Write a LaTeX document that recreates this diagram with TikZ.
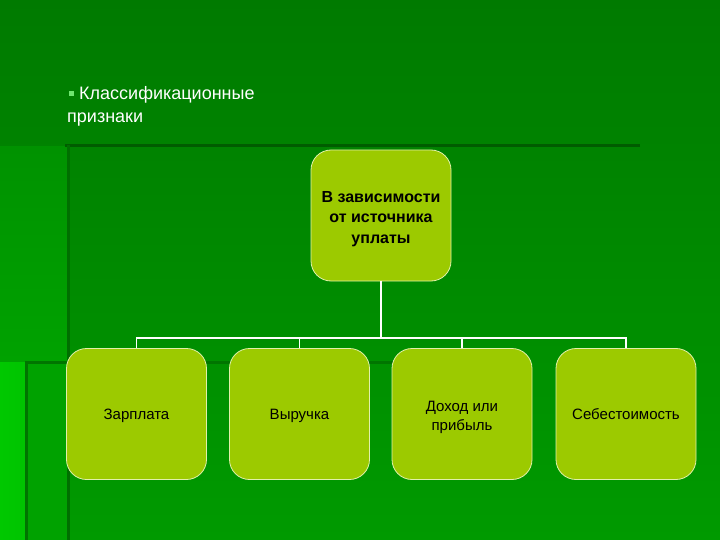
\documentclass[tikz,border=0pt]{standalone}
\usepackage{fontspec}
\setmainfont{Liberation Sans}
\usetikzlibrary{calc}
\definecolor{bgtop}{RGB}{0,122,0}
\definecolor{bgbot}{RGB}{0,154,0}
\definecolor{darkline}{RGB}{0,92,0}
\definecolor{leftbright}{RGB}{0,200,0}
\definecolor{leftmid}{RGB}{0,162,0}
\definecolor{boxfill}{RGB}{156,202,0}
\definecolor{boxedge}{RGB}{225,240,170}
\definecolor{bulletc}{RGB}{110,230,110}
\newcommand{\bxtext}[2]{\raisebox{#1}[\height][\depth]{\parbox{134pt}{\centering #2}}}
\tikzset{
  box/.style={draw=boxedge, line width=0.8pt, fill=boxfill, rounded corners=20pt,
    minimum width=140pt, minimum height=131pt, align=center, text=black,
    font=\fontsize{15}{19}\selectfont, inner sep=2pt},
  topbox/.style={box, font=\fontsize{16}{20.5}\selectfont\bfseries},
  conn/.style={draw=white, line width=1.8pt},
  title/.style={text=white, font=\fontsize{18}{21}\selectfont, anchor=west, inner sep=0pt}
}
\begin{document}
\begin{tikzpicture}[x=1pt,y=-1pt]
\useasboundingbox (0,0) rectangle (720,540);
\clip (0,0) rectangle (720,540);
% background
\shade[top color=bgtop, bottom color=bgbot] (0,0) rectangle (720,540);
\shade[top color=leftmid!60!bgtop, bottom color=leftmid] (0,147) rectangle (67,362);
\shade[left color=leftbright, right color=leftbright!90!bgbot] (0,362) rectangle (26,540);
\fill[leftmid] (26,362) rectangle (67,540);
\draw[darkline!60!bgbot, line width=3pt] (26,540) -- (26,362) -- (400,362);
\draw[darkline, line width=3.5pt] (640,145.5) -- (65,145.5);
\draw[darkline!70!bgbot, line width=3pt] (68.5,145) -- (68.5,540);
% title
\fill[bulletc] (69,91.5) rectangle (73.5,96);
\node[title] (t1) at (79,94.5) {Классификационные};
\node[title] (t2) at (67,119.5) {признаки};
% boxes
\node[topbox] (top) at (381,215.5) {\bxtext{-3.5pt}{В зависимости\\от источника\\уплаты}};
\node[box] (b1) at (136.5,414) {\bxtext{-2pt}{Зарплата}};
\node[box] (b2) at (299.5,414) {\bxtext{-2pt}{Выручка}};
\node[box] (b3) at (462,414) {\bxtext{-3.5pt}{Доход или\\прибыль}};
\node[box] (b4) at (626,414) {\bxtext{-0.5pt}{Себестоимость}};
\coordinate (bus) at (381,338);
\foreach \b in {b1,b2,b3,b4}{
  \draw[conn] (top.south) -- (bus) -| (\b.north);
}
\end{tikzpicture}
\end{document}
